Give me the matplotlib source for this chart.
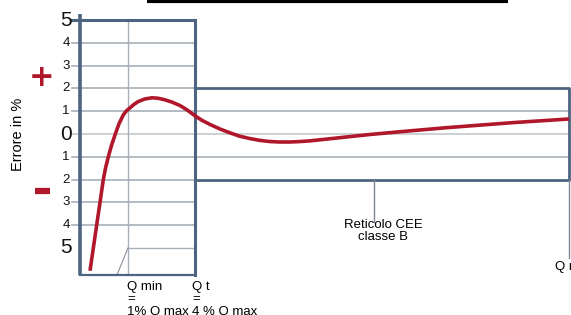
import matplotlib
matplotlib.use("Agg")
import matplotlib.pyplot as plt

# error curve of the meter (x in arbitrary flow units, y in %)
curve_x = [90, 94, 97, 100, 103.3, 105.5, 108.3, 111.5, 115, 119, 123.3, 126.5,
           130, 134, 138, 145, 152, 158, 165, 172, 180, 187, 195, 202, 210, 220,
           230, 240, 250, 260, 270, 280, 290, 300, 310, 325, 340, 355, 370, 400,
           447, 513, 569]
curve_y = [-6.0, -4.8, -3.9, -3.0, -2.0, -1.5, -1.0, -0.5, -0.04, 0.45, 0.84,
           1.02, 1.15, 1.30, 1.42, 1.54, 1.59, 1.57, 1.50, 1.40, 1.25, 1.06, 0.80,
           0.60, 0.42, 0.22, 0.05, -0.1, -0.2, -0.28, -0.33, -0.35, -0.35, -0.33,
           -0.30, -0.23, -0.16, -0.09, -0.02, 0.10, 0.28, 0.50, 0.66]

tick_vals = [5, 4, 3, 2, 1, 0, -1, -2, -3, -4, -5]
tick_labels = ["5", "4", "3", "2", "1", "0", "1", "2", "3", "4", "5"]
big_vals = [5, 0, -5]

q_min = 128
q_t = 195
q_max = 569
band = 2  # classe B tolerance

FRAME = "#4d6480"
GRID = "#a7afb8"
RED = "#b0172a"

fig = plt.figure(figsize=(5.71, 3.15), dpi=100)
ax = fig.add_axes([0, 0, 1, 1])
ax.set_xlim(0, 571)
ax.set_ylim(-7.94, 5.88)
ax.axis("off")

bottom = -6.18

# grid lines of the left panel
for v in tick_vals:
    if v == 5:
        continue
    if v == -5:
        ax.plot([q_min, q_t], [v, v], color=GRID, lw=1)
        continue
    col = "#c4c8cc" if v == 0 else GRID
    ax.plot([72, q_t], [v, v], color=col, lw=1.2)
ax.plot([q_min, q_min], [5, bottom], color=GRID, lw=1)
ax.plot([q_min, 117], [-5, bottom], color="#8a9099", lw=0.8)

# grid lines inside the tolerance band
for v in [1, 0, -1]:
    col = "#c4c8cc" if v == 0 else GRID
    ax.plot([q_t, q_max], [v, v], color=col, lw=1.2)

# frame of the left panel
ax.plot([80, 80], [5.26, bottom], color=FRAME, lw=2.6, solid_capstyle="butt")
ax.plot([72, q_t], [5, 5], color=FRAME, lw=2.2)
ax.plot([q_t, q_t], [5, bottom], color=FRAME, lw=2.2)
ax.plot([80, q_t], [bottom, bottom], color=FRAME, lw=1.6)

# classe B band
ax.plot([q_t, q_max, q_max, q_t, q_t], [band, band, -band, -band, band],
        color=FRAME, lw=2)
ax.plot([374, 374], [-band, -3.86], color="#7d8590", lw=1)
ax.plot([q_max, q_max], [-band, -5.44], color="#7d8590", lw=1)

# error curve
ax.plot(curve_x, curve_y, color=RED, lw=2.6, solid_joinstyle="round",
        solid_capstyle="butt")

# tick labels
for v, lab in zip(tick_vals, tick_labels):
    size = 15 if v in big_vals else 9.5
    ax.text(66, v, lab, ha="center", va="center", fontsize=size,
            family="Liberation Sans", color="#111111")

ax.text(42, 2.5, "+", ha="center", va="center", fontsize=22, color=RED,
        fontweight="bold", family="DejaVu Sans")
ax.plot([35, 50], [-2.5, -2.5], color=RED, lw=4.5, solid_capstyle="butt")

ax.text(18, 0, "Errore in %", rotation=90, ha="center", va="center",
        fontsize=10.5, family="Liberation Sans")

ax.text(383, -4.25, "Reticolo CEE\nclasse B", ha="center", va="center",
        fontsize=9.5, family="Liberation Sans", linespacing=0.95)
ax.text(555, -5.85, "Q max", ha="left", va="center", fontsize=9.5,
        family="Liberation Sans")

ax.text(127, -6.45, "Q min\n=\n1% Q max", ha="left", va="top",
        fontsize=9.5, family="Liberation Sans", linespacing=1.05)
ax.text(192, -6.45, "Q t\n=\n4 % Q max", ha="left", va="top",
        fontsize=9.5, family="Liberation Sans", linespacing=1.05)

# cut-off title underline at the top
ax.plot([147, 508], [5.84, 5.84], color="black", lw=3, solid_capstyle="butt")

fig.savefig("out.png", dpi=100)
